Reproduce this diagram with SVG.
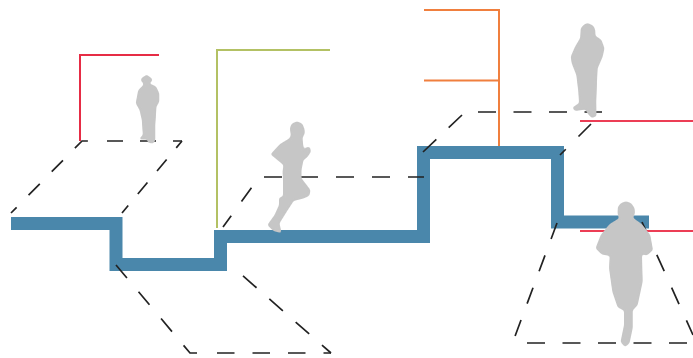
<svg xmlns="http://www.w3.org/2000/svg" width="693" height="358" viewBox="0 0 693 358">
<defs>
<filter id="soft" x="-20%" y="-20%" width="140%" height="140%">
<feGaussianBlur stdDeviation="1.1"/>
<feComponentTransfer><feFuncA type="linear" slope="3" intercept="-1"/></feComponentTransfer>
</filter>
</defs>
<style>
.step{fill:none;stroke:#4a87ab;stroke-width:13;stroke-linejoin:miter}
.dash{fill:none;stroke:#222;stroke-width:1.7}
.lead{fill:none;stroke-width:2}
.red{stroke:#e62c45}.pink{stroke:#ec3d55}.green{stroke:#b3c164}.orange{stroke:#f07f3e}
.fig{fill:#c6c6c6;stroke:#c6c6c6;stroke-width:1;stroke-linejoin:round;filter:url(#soft)}
</style>
<rect width="693" height="358" fill="#fff"/>
<path id="stair" class="step" d="M11 223.5H116V264.5H220.5V236.5H423.5V152.5H557.5V222H649"/>
<g id="connectors">
<g id="plane-1">
<path class="dash" stroke-dasharray="16 17" stroke-dashoffset="8" d="M11 213L82 141H88"/>
<path class="dash" stroke-dasharray="16 17" d="M107 141H182"/>
<path class="dash" stroke-dasharray="15 15" stroke-dashoffset="6" d="M182 141L122 213"/>
</g>
<g id="plane-2">
<path class="dash" stroke-dasharray="17 18" d="M116 265L190 353H199"/>
<path class="dash" stroke-dasharray="17.5 18" d="M217 353H331"/>
<path class="dash" stroke-dasharray="18 17" stroke-dashoffset="6" d="M331 353L242 275"/>
</g>
<g id="plane-3">
<path class="dash" stroke-dasharray="17 17.5" stroke-dashoffset="3" d="M223 227L252 187"/>
<path class="dash" stroke-dasharray="18 18" d="M264 177H424"/>
</g>
<g id="plane-4">
<path class="dash" stroke-dasharray="18.4 17" d="M423 152L462 115"/>
<path class="dash" stroke-dasharray="18 17.5" d="M478 112H602"/>
<path class="dash" stroke-dasharray="17.7 18" d="M591 124L560 155"/>
</g>
<g id="plane-5">
<path class="dash" stroke-dasharray="17 17.5" d="M557 223L514 339"/>
<path class="dash" stroke-dasharray="18 17.5" d="M527 343H687"/>
<path class="dash" stroke-dasharray="18 18" d="M642 222L693 335"/>
</g>
<path id="lead-red" class="lead red" d="M80 141V55H159"/>
<path id="lead-green" class="lead green" d="M217 228V50H330"/>
<path id="lead-orange" class="lead orange" d="M424 10H499V146M424 80.5H499"/>
<path id="lead-pink" class="lead pink" d="M580 121H693M580 231H693"/>
</g>
<g id="figure-man"><path class="fig" d="M146.7 75L149 77L151.5 78.5L152 81L149.5 82L149.5 84L155.7 86.7L158.8 93.3L158.8 101.7L156 106.7L154.8 125L154.8 140L153.5 143L148.3 142.5L147.7 139L139.5 139L143.3 135L142.3 120L140 110L136.2 103.3L138.7 90L144 85L143.3 82L141.2 81L142 78L144 77Z"/></g>
<g id="figure-runner"><path class="fig" d="M297 121.8L302 124L304 129L304.3 133.3L302 138L302.7 145L304.3 152L305.7 148L309.5 147.2L310.5 151.7L307 157L303 160L301 170L301 178.3L303.7 181.7L310 190L309 195.5L303.5 198L293.5 200.5L287 210.5L279 223.3L281 232.5L273.3 230.5L267.8 225L275 215L279.5 205L279.5 198L283.5 196.5L283.5 180L283 171.7L284 165L276.5 158.8L271 154.3L280 144.5L290 138.5L291.3 135L290.3 128.3L292 124Z"/></g>
<g id="figure-woman"><path class="fig" d="M587.7 23.5L593 26L594.8 30L595 36L601 40L604 48.3L602.2 56.7L597.2 68.3L596.5 81.7L595.8 101.7L596 116L591.7 117.5L588 113.5L586 109L575 110.5L572.8 107.7L579.5 103.3L578.8 91.7L576.8 75L572.2 63.3L571.2 56.7L575.5 46.7L580.7 38L581.2 28.3L584 25Z"/></g>
<g id="figure-front-runner"><path class="fig" d="M626 201.8L631 203.5L634 208L634.5 213.3L632.5 218L641.7 224.5L649.8 235L652.5 250L647 255L641.5 253.8L642.2 281.7L637.2 305L632.2 310.5L632.2 328.3L629 343.3L625 346.5L621 342L624.5 325L624.5 310.5L618 307L612.8 291.7L609.5 268.3L610.2 255.5L601.7 254L596 248.3L601.2 235L609.7 224.5L619.5 218.5L618 213.3L618.3 207L621 203.5Z"/></g>
</svg>
